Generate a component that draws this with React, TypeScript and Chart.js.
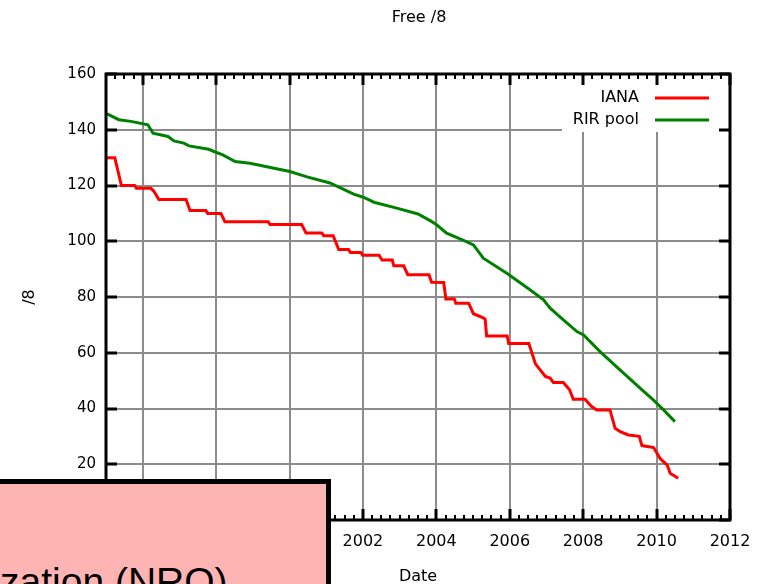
import React, { useEffect, useRef } from 'react';
import { Chart, registerables } from 'chart.js';

Chart.register(...registerables);

// ---- data ----
const chartTitle = 'Free /8';
const xTitle = 'Date';
const yTitle = '/8';
const seriesLabels = ['IANA', 'RIR pool'];
const overlayText = 'zation (NRO)';

const xMin = 1995;
const xMax = 2012;
const xTickYears = [1996, 1998, 2000, 2002, 2004, 2006, 2008, 2010, 2012];
const yTickValues = [0, 20, 40, 60, 80, 100, 120, 140, 160];

const ianaYears = [
  1995.03, 1995.24, 1995.42, 1995.78, 1995.83, 1996.22, 1996.30, 1996.44, 1997.18, 1997.29,
  1997.72, 1997.77, 1998.13, 1998.24, 1999.42, 1999.47, 2000.33, 2000.45, 2000.88, 2000.93,
  2001.19, 2001.34, 2001.61, 2001.66, 2001.94, 2001.99, 2002.44, 2002.52, 2002.80, 2002.84,
  2003.11, 2003.22, 2003.80, 2003.87, 2004.20, 2004.26, 2004.49, 2004.53, 2004.88, 2005.01,
  2005.28, 2005.33, 2005.37, 2005.93, 2005.97, 2006.52, 2006.70, 2006.97, 2007.10, 2007.19,
  2007.46, 2007.63, 2007.73, 2008.05, 2008.23, 2008.37, 2008.73, 2008.87, 2009.01, 2009.23,
  2009.53, 2009.60, 2009.92, 2010.10, 2010.29, 2010.37, 2010.59,
];
const ianaValues = [
  130, 130, 120, 120, 119, 119, 118, 115, 115, 111,
  111, 110, 110, 107, 107, 106, 106, 103, 103, 102,
  102, 97, 97, 96, 96, 95, 95, 93.3, 93.3, 91.2,
  91.2, 88, 88, 85.3, 85.2, 79.3, 79.3, 77.8, 77.8, 74,
  72.5, 72, 66, 66, 63.3, 63.3, 56, 51.5, 50.9, 49.3,
  49.3, 46.7, 43.3, 43.3, 40.7, 39.5, 39.5, 32.9, 31.7, 30.5,
  30, 26.7, 26, 22, 19.7, 16.8, 15,
];

const rirYears = [
  1995.03, 1995.35, 1995.68, 1996.14, 1996.28, 1996.69, 1996.85, 1997.12, 1997.26, 1997.80,
  1997.94, 1998.18, 1998.52, 1998.92, 2000.01, 2000.50, 2001.10, 2001.75, 2002.01, 2002.30,
  2002.92, 2003.50, 2003.83, 2004.00, 2004.28, 2004.74, 2005.01, 2005.28, 2005.92, 2006.55,
  2006.92, 2007.10, 2007.46, 2007.83, 2008.01, 2008.46, 2009.01, 2009.55, 2009.91, 2010.19,
  2010.50,
];
const rirValues = [
  145.7, 143.6, 143, 141.8, 138.8, 137.6, 136, 135.2, 134.2, 133,
  132.2, 131, 128.6, 128, 125, 123, 120.9, 116.9, 115.8, 114,
  111.9, 109.8, 107.4, 106, 102.9, 100.3, 98.7, 93.9, 88.5, 82.6,
  79, 76, 71.8, 67.6, 66.4, 60.4, 53.8, 47.3, 43.1, 39.5,
  35.3,
];

const ianaColor = '#ff0000';
const rirColor = '#008000';

const toPoints = (xs: number[], ys: number[]) => xs.map((x, i) => ({ x, y: ys[i] }));

const FONT = '"DejaVu Sans", sans-serif';

const framePlugin = {
  id: 'gnuplotFrame',
  afterDatasetsDraw(chart: any) {
    const { ctx, chartArea: a } = chart;
    ctx.save();
    // legend box (white, covers grid)
    ctx.fillStyle = '#ffffff';
    ctx.fillRect(a.right - 168, a.top, 168, 58);
    ctx.font = `16px ${FONT}`;
    ctx.textAlign = 'right';
    ctx.textBaseline = 'middle';
    const rows = [
      { label: seriesLabels[0], color: ianaColor, y: a.top + 24 },
      { label: seriesLabels[1], color: rirColor, y: a.top + 46 },
    ];
    rows.forEach((r) => {
      ctx.fillStyle = '#000';
      ctx.fillText(r.label, a.right - 91, r.y);
      ctx.strokeStyle = r.color;
      ctx.lineWidth = 3;
      ctx.beginPath();
      ctx.moveTo(a.right - 75, r.y);
      ctx.lineTo(a.right - 21, r.y);
      ctx.stroke();
    });
    ctx.restore();
  },
  afterDraw(chart: any) {
    const { ctx, chartArea: a, scales } = chart;
    const xs = scales.x;
    const ys = scales.y;
    ctx.save();
    ctx.strokeStyle = '#000';
    // minor x ticks (quarterly)
    ctx.lineWidth = 2;
    for (let q = xMin * 4; q <= xMax * 4; q++) {
      const v = q / 4;
      if (Math.abs(v - Math.round(v)) < 1e-6 && Math.round(v) % 2 === 0) continue;
      const px = Math.round(xs.getPixelForValue(v));
      ctx.beginPath();
      ctx.moveTo(px, a.bottom);
      ctx.lineTo(px, a.bottom - 5);
      ctx.moveTo(px, a.top);
      ctx.lineTo(px, a.top + 5);
      ctx.stroke();
    }
    // major x ticks
    ctx.lineWidth = 3;
    xTickYears.forEach((v) => {
      const px = Math.round(xs.getPixelForValue(v));
      ctx.beginPath();
      ctx.moveTo(px, a.bottom);
      ctx.lineTo(px, a.bottom - 11);
      ctx.moveTo(px, a.top);
      ctx.lineTo(px, a.top + 11);
      ctx.stroke();
    });
    // major y ticks (both sides)
    yTickValues.forEach((v) => {
      const py = Math.round(ys.getPixelForValue(v));
      ctx.beginPath();
      ctx.moveTo(a.left, py);
      ctx.lineTo(a.left + 11, py);
      ctx.moveTo(a.right, py);
      ctx.lineTo(a.right - 11, py);
      ctx.stroke();
    });
    // border
    ctx.lineWidth = 3;
    ctx.strokeRect(a.left, a.top, a.right - a.left, a.bottom - a.top);

    // titles
    ctx.fillStyle = '#000';
    ctx.textAlign = 'center';
    ctx.textBaseline = 'middle';
    ctx.font = `16px ${FONT}`;
    const cx = (a.left + a.right) / 2;
    ctx.fillText(chartTitle, cx + 1, 18);
    ctx.fillText(xTitle, cx, 577);
    ctx.save();
    ctx.translate(30, (a.top + a.bottom) / 2);
    ctx.rotate(-Math.PI / 2);
    ctx.fillText(yTitle, 0, 0);
    ctx.restore();
    ctx.restore();
  },
};

export default function App() {
  const ref = useRef<HTMLCanvasElement>(null);

  useEffect(() => {
    const canvas = ref.current;
    if (!canvas) return;
    const chart = new Chart(canvas, {
      type: 'line',
      data: {
        datasets: [
          {
            label: seriesLabels[0],
            data: toPoints(ianaYears, ianaValues),
            borderColor: ianaColor,
            backgroundColor: ianaColor,
            borderWidth: 3,
            pointRadius: 0,
            tension: 0,
            fill: false,
          },
          {
            label: seriesLabels[1],
            data: toPoints(rirYears, rirValues),
            borderColor: rirColor,
            backgroundColor: rirColor,
            borderWidth: 3,
            pointRadius: 0,
            tension: 0,
            fill: false,
          },
        ],
      },
      options: {
        animation: false,
        responsive: false,
        maintainAspectRatio: false,
        devicePixelRatio: 1,
        layout: { padding: { left: 0, right: 28, top: 74, bottom: 0 } },
        plugins: {
          legend: { display: false },
          title: { display: false },
          tooltip: { enabled: false },
        },
        scales: {
          x: {
            type: 'linear',
            min: xMin,
            max: xMax,
            afterBuildTicks: (s: any) => {
              s.ticks = xTickYears.map((v) => ({ value: v }));
            },
            afterFit: (s: any) => {
              s.height = 64;
              s.paddingLeft = 0;
              s.paddingRight = 0;
            },
            grid: { color: '#8c8c8c', lineWidth: 2, drawTicks: false },
            border: { display: false },
            ticks: {
              autoSkip: false,
              maxRotation: 0,
              padding: 12,
              color: '#000',
              font: { family: FONT, size: 16 },
              callback: (v: any) => String(v),
            },
          },
          y: {
            type: 'linear',
            min: 0,
            max: 160,
            afterBuildTicks: (s: any) => {
              s.ticks = yTickValues.map((v) => ({ value: v }));
            },
            afterFit: (s: any) => {
              s.width = 106;
              s.paddingTop = 0;
              s.paddingBottom = 0;
            },
            grid: { color: '#8c8c8c', lineWidth: 2, drawTicks: false },
            border: { display: false },
            ticks: {
              padding: 10,
              color: '#000',
              font: { family: FONT, size: 15 },
              callback: (v: any) => String(v),
            },
          },
        },
      },
      plugins: [framePlugin],
    } as any);
    return () => chart.destroy();
  }, []);

  return (
    <div
      style={{
        position: 'absolute',
        left: 0,
        top: 0,
        width: 758,
        height: 584,
        overflow: 'hidden',
        background: '#fff',
      }}
    >
      <canvas ref={ref} width={758} height={584} style={{ display: 'block', width: 758, height: 584 }} />
      <div
        style={{
          position: 'absolute',
          left: -10,
          top: 479,
          width: 341,
          height: 140,
          boxSizing: 'border-box',
          background: '#ffb4b4',
          border: '5px solid #000',
        }}
      />
      <div
        style={{
          position: 'absolute',
          left: 0,
          top: 562,
          fontFamily: '"Liberation Sans", Arial, sans-serif',
          fontSize: 39,
          lineHeight: 1,
          whiteSpace: 'nowrap',
          color: '#000',
        }}
      >
        {overlayText}
      </div>
    </div>
  );
}
